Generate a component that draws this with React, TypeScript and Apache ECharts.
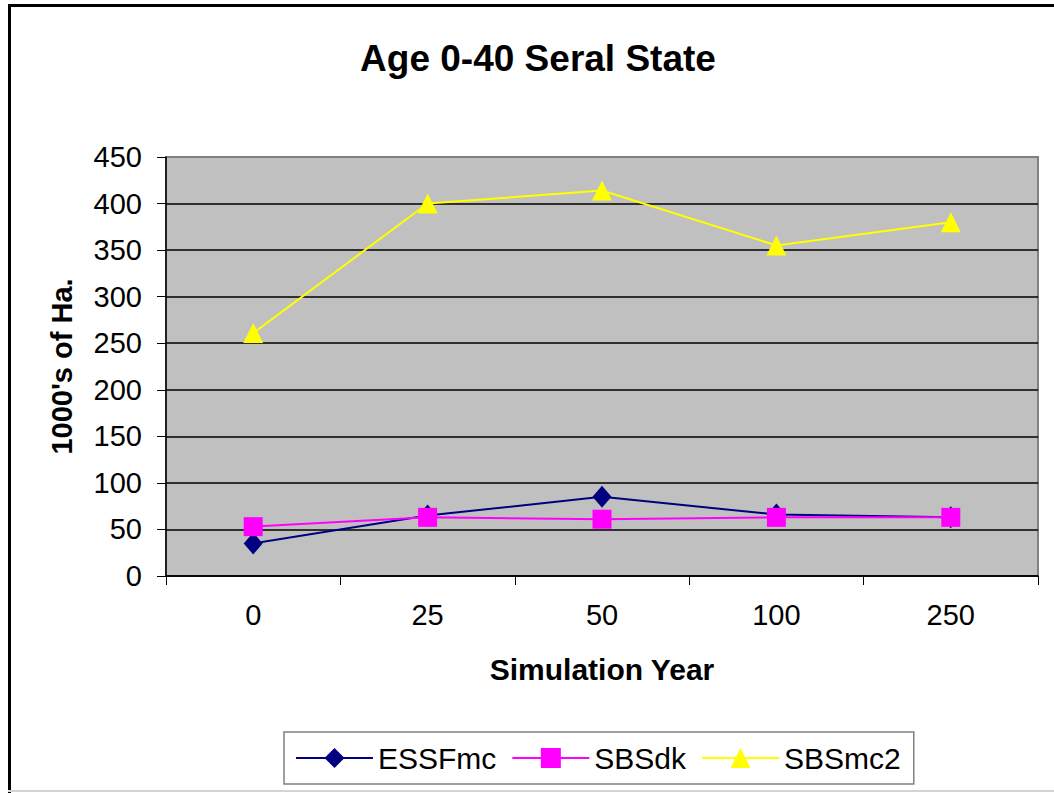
import React, { useEffect, useRef } from "react";
import * as echarts from "echarts";

// Simulation years on the category axis
const years = ["0", "25", "50", "100", "250"];

// Area (1000's of ha) in the 0-40 age seral state
const essfmc = [35, 65, 85, 66, 63];
const sbsdk = [53, 63, 61, 63, 63];
const sbsmc2 = [261, 400, 414, 355, 380];

const seriesNames = ["ESSFmc", "SBSdk", "SBSmc2"];

const FONT = "'Liberation Sans', Arial, Helvetica, sans-serif";

export default function App() {
  const ref = useRef<HTMLDivElement>(null);

  useEffect(() => {
    if (!ref.current) return;
    const chart = echarts.init(ref.current, null, { renderer: "svg" });

    chart.setOption({
      animation: false,
      backgroundColor: "#ffffff",
      textStyle: { fontFamily: FONT, color: "#000" },
      graphic: [
        // outer chart frame
        { type: "line", shape: { x1: 9.5, y1: 4, x2: 9.5, y2: 793 }, style: { stroke: "#000", lineWidth: 3 } },
        { type: "line", shape: { x1: 8, y1: 5.5, x2: 1054, y2: 5.5 }, style: { stroke: "#000", lineWidth: 3 } },
        { type: "line", shape: { x1: 8, y1: 791, x2: 1054, y2: 791 }, style: { stroke: "#d4d4d4", lineWidth: 2 } },
        {
          type: "text",
          x: 538,
          y: 58,
          style: {
            text: "Age 0-40 Seral State",
            font: `bold 37px ${FONT}`,
            fill: "#000",
            textAlign: "center",
            textVerticalAlign: "middle",
          },
        },
      ],
      grid: {
        left: 166,
        right: 16,
        top: 157,
        bottom: 217,
        show: true,
        backgroundColor: "#c0c0c0",
        borderColor: "#808080",
        borderWidth: 2,
      },
      legend: {
        data: seriesNames,
        left: 284,
        top: 732,
        orient: "horizontal",
        itemWidth: 77,
        itemHeight: 25,
        itemGap: 15,
        padding: [9, 13, 9, 11],
        borderColor: "#808080",
        borderWidth: 1.5,
        backgroundColor: "#fff",
        textStyle: { fontFamily: FONT, fontSize: 30, color: "#000", lineHeight: 34 },
      },
      xAxis: {
        type: "category",
        data: years,
        boundaryGap: true,
        name: "Simulation Year",
        nameLocation: "middle",
        nameGap: 78,
        nameTextStyle: { fontFamily: FONT, fontSize: 30, fontWeight: "bold", color: "#000" },
        axisLine: { show: true, lineStyle: { color: "#000", width: 1.5 } },
        axisTick: { show: true, inside: false, length: 9, lineStyle: { color: "#000", width: 1 } },
        axisLabel: { fontFamily: FONT, fontSize: 29, color: "#000", margin: 24 },
        splitLine: { show: false },
      },
      yAxis: {
        type: "value",
        min: 0,
        max: 450,
        interval: 50,
        name: "1000's of Ha.",
        nameLocation: "middle",
        nameGap: 90,
        nameRotate: 90,
        nameTextStyle: { fontFamily: FONT, fontSize: 29, fontWeight: "bold", color: "#000" },
        axisLine: { show: true, lineStyle: { color: "#000", width: 1.5 } },
        axisTick: { show: true, inside: false, length: 9, lineStyle: { color: "#000", width: 1 } },
        axisLabel: { fontFamily: FONT, fontSize: 29, color: "#000", margin: 24 },
        splitLine: { show: true, showMaxLine: false, lineStyle: { color: "#000", width: 1.5 } },
      },
      series: [
        {
          name: seriesNames[0],
          type: "line",
          data: essfmc,
          symbol: "diamond",
          symbolSize: [19, 22],
          color: "#000080",
          lineStyle: { color: "#000080", width: 2 },
          itemStyle: { color: "#000080" },
          z: 3,
        },
        {
          name: seriesNames[1],
          type: "line",
          data: sbsdk,
          symbol: "rect",
          symbolSize: [19, 19],
          color: "#ff00ff",
          lineStyle: { color: "#ff00ff", width: 2 },
          itemStyle: { color: "#ff00ff" },
          z: 4,
        },
        {
          name: seriesNames[2],
          type: "line",
          data: sbsmc2,
          symbol: "triangle",
          symbolSize: [20, 20],
          color: "#ffff00",
          lineStyle: { color: "#ffff00", width: 2 },
          itemStyle: { color: "#ffff00" },
          z: 5,
        },
      ],
    });

    return () => chart.dispose();
  }, []);

  return (
    <div
      ref={ref}
      style={{ position: "absolute", left: 0, top: 0, width: 1054, height: 793 }}
    />
  );
}
